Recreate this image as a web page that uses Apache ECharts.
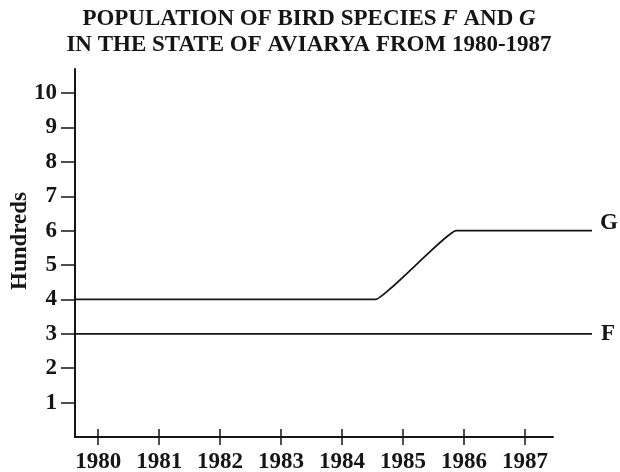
<!DOCTYPE html>
<html>
<head>
<meta charset="utf-8">
<script src="https://cdn.jsdelivr.net/npm/echarts@6/dist/echarts.min.js"></script>
<style>html,body{margin:0;padding:0;background:#fff;}#c{width:620px;height:472px;}</style>
</head>
<body>
<div id="c"></div>
<script>
// ---- data ----
const yearTicks = [1980, 1981, 1982, 1983, 1984, 1985, 1986, 1987];
const yTicks = [1, 2, 3, 4, 5, 6, 7, 8, 9, 10];
const fYears = [1979.62, 1988.1];
const fValues = [3, 3];
const gYears = [1979.62, 1984.55, 1985.87, 1988.1];
const gValues = [4, 4, 6, 6];

const xMin = 1979.62, xAxisMax = 1987.46, xDataMax = 1988.1;
const yMin = 0, yMax = 10.7;
const FONT = '"Liberation Serif", "Times New Roman", serif';
const INK = '#151515';

const chart = echarts.init(document.getElementById('c'), null, {renderer: 'canvas'});

function zip(xs, ys) { return xs.map((x, i) => [x, ys[i]]); }

const gridBase = {left: 75, top: 69, bottom: 35, containLabel: false, outerBoundsMode: 'none'};
const labelStyle = {fontFamily: FONT, fontWeight: 'bold', fontSize: 23, color: INK};

chart.setOption({
  animation: false,
  backgroundColor: '#fff',
  title: {
    left: 304, top: 1, textAlign: 'center',
    text: '{b|POPULATION OF BIRD SPECIES }{i|F}{b| AND }{i|G}\n{b|IN THE STATE OF AVIARYA FROM 1980-1987}',
    textStyle: {
      lineHeight: 26,
      rich: {
        b: {fontFamily: FONT, fontWeight: 'bold', fontSize: 23, color: INK, lineHeight: 26},
        i: {fontFamily: FONT, fontWeight: 'bold', fontStyle: 'italic', fontSize: 23, color: INK, lineHeight: 26}
      }
    }
  },
  grid: [
    Object.assign({right: 620 - 553}, gridBase),
    Object.assign({right: 620 - 553}, gridBase),
    Object.assign({right: 620 - 592}, gridBase)
  ],
  xAxis: [
    {
      gridIndex: 0, type: 'value', min: xMin, max: xAxisMax,
      axisLine: {show: true, lineStyle: {color: INK, width: 2}},
      axisTick: {show: true, inside: false, length: 8, customValues: yearTicks, lineStyle: {color: INK, width: 1.5}},
      axisLabel: Object.assign({customValues: yearTicks, margin: 14, formatter: v => String(v)}, labelStyle),
      splitLine: {show: false}
    },
    {
      gridIndex: 1, type: 'value', min: xMin, max: xAxisMax,
      axisLine: {show: false},
      axisTick: {show: true, inside: true, length: 8, customValues: yearTicks, lineStyle: {color: INK, width: 1.5}},
      axisLabel: {show: false},
      splitLine: {show: false}
    },
    {
      gridIndex: 2, type: 'value', min: xMin, max: xDataMax, show: false
    }
  ],
  yAxis: [
    {
      gridIndex: 0, type: 'value', min: yMin, max: yMax,
      name: 'Hundreds', nameLocation: 'middle', nameRotate: 90, nameGap: 43,
      nameMoveOverlap: false,
      nameTextStyle: Object.assign({padding: [0, 0, 0, 24]}, labelStyle),
      axisLine: {show: true, lineStyle: {color: INK, width: 2}},
      axisTick: {show: true, inside: false, length: 14, customValues: yTicks, lineStyle: {color: INK, width: 1.5}},
      axisLabel: Object.assign({customValues: yTicks, margin: 18}, labelStyle),
      splitLine: {show: false}
    },
    {
      gridIndex: 1, type: 'value', min: yMin, max: yMax, show: false
    },
    {
      gridIndex: 2, type: 'value', min: yMin, max: yMax, show: false
    }
  ],
  series: [
    {
      name: 'F', type: 'line', xAxisIndex: 2, yAxisIndex: 2,
      data: zip(fYears, fValues), symbol: 'none',
      lineStyle: {color: INK, width: 1.7},
      endLabel: Object.assign({show: true, formatter: '{a}', distance: 9, offset: [0, 0]}, labelStyle)
    },
    {
      name: 'G', type: 'line', xAxisIndex: 2, yAxisIndex: 2,
      data: zip(gYears, gValues), symbol: 'none',
      smooth: 0.1, smoothMonotone: 'x',
      lineStyle: {color: INK, width: 1.7},
      endLabel: Object.assign({show: true, formatter: '{a}', distance: 8, offset: [0, -8]}, labelStyle)
    }
  ]
});
</script>
</body>
</html>
